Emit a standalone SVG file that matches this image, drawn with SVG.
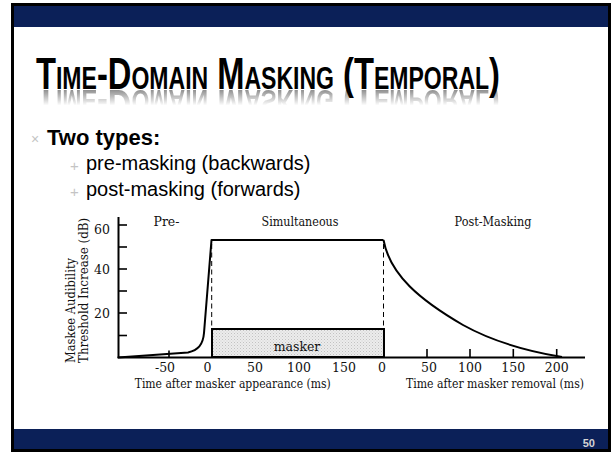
<svg xmlns="http://www.w3.org/2000/svg" width="611" height="452" viewBox="0 0 611 452">
  <style>
    .serif { font-family: "DejaVu Serif", "Liberation Serif", serif; fill: #111; }
    .lbl { font-size: 12.5px; }
    .tick { font-size: 12.5px; text-anchor: middle; }
    .ax { stroke: #000; stroke-width: 2; fill: none; }
    .tk { stroke: #000; stroke-width: 1.6; }
    .crv { stroke: #000; stroke-width: 2; fill: none; stroke-linejoin: round; }
    .dash { stroke: #000; stroke-width: 1; stroke-dasharray: 5 3.5; }
    .sans { font-family: "Liberation Sans", Arial, sans-serif; }
    .bul { fill: #c4c4c4; }
    .ttl { font-size: 44px; font-weight: bold; font-variant: small-caps; fill: #000; }
  </style>
  <defs>
    <linearGradient id="lineGrad" x1="0" y1="0" x2="1" y2="0">
      <stop offset="0" stop-color="#bdbdbd" stop-opacity="0"/>
      <stop offset="0.3" stop-color="#bdbdbd" stop-opacity="1"/>
      <stop offset="1" stop-color="#bdbdbd" stop-opacity="1"/>
    </linearGradient>
    <linearGradient id="maskGrad" x1="0" y1="0" x2="0" y2="1">
      <stop offset="0" stop-color="#fff" stop-opacity="0.45"/>
      <stop offset="1" stop-color="#fff" stop-opacity="0"/>
    </linearGradient>
    <mask id="reflMask" maskUnits="userSpaceOnUse" x="20" y="89" width="500" height="20">
      <rect x="20" y="89.5" width="500" height="16" fill="url(#maskGrad)"/>
    </mask>
    <pattern id="stip" width="3" height="3" patternUnits="userSpaceOnUse">
      <rect width="3" height="3" fill="#ececec"/>
      <rect x="0" y="0" width="1" height="1" fill="#c2c2c2"/>
      <rect x="1.5" y="1.5" width="1" height="1" fill="#d0d0d0"/>
    </pattern>
  </defs>

  <!-- slide frame -->
  <g id="frame">
    <rect x="11" y="3" width="600" height="449" fill="#000"/>
    <rect x="14" y="6" width="594" height="443" fill="#fff"/>
    <rect x="14" y="6" width="594" height="21" fill="#0b2058"/>
    <rect x="14" y="429" width="594" height="20" fill="#0b2058"/>
    <text x="595" y="447" class="sans" font-size="11" font-weight="bold" fill="#d4d4d4" text-anchor="end">50</text>
  </g>

  <!-- title -->
  <g id="title">
    <line x1="440" y1="90" x2="608" y2="90" stroke="url(#lineGrad)" stroke-width="1.5"/>
    <g mask="url(#reflMask)">
      <use href="#titleText" transform="translate(0,179) scale(1,-1)"/>
    </g>
    <text id="titleText" x="36" y="89" class="sans ttl" textLength="464" lengthAdjust="spacingAndGlyphs">Time-Domain Masking (Temporal)</text>
  </g>

  <!-- bullets -->
  <g id="bullets" class="sans">
    <text x="31" y="144" font-size="14" class="bul">×</text>
    <text x="47" y="145" font-size="22" font-weight="bold" fill="#000">Two types:</text>
    <text x="70" y="171" font-size="15" class="bul">+</text>
    <text x="86" y="170" font-size="20" fill="#000">pre-masking (backwards)</text>
    <text x="70" y="197" font-size="15" class="bul">+</text>
    <text x="86" y="196" font-size="20" fill="#000">post-masking (forwards)</text>
  </g>

  <!-- chart -->
  <g id="axes">
    <line class="ax" x1="118.5" y1="217" x2="118.5" y2="358"/>
    <line class="ax" x1="117.5" y1="357.5" x2="585" y2="357.5"/>
    <g class="tk">
      <line x1="118" y1="225" x2="127" y2="225"/>
      <line x1="118" y1="247" x2="127" y2="247"/>
      <line x1="118" y1="269" x2="127" y2="269"/>
      <line x1="118" y1="291" x2="127" y2="291"/>
      <line x1="118" y1="313" x2="127" y2="313"/>
      <line x1="118" y1="335.5" x2="127" y2="335.5"/>
      <line x1="169" y1="350.5" x2="169" y2="357"/>
      <line x1="427" y1="349" x2="427" y2="357"/>
      <line x1="470" y1="349" x2="470" y2="357"/>
      <line x1="513.3" y1="349" x2="513.3" y2="357"/>
      <line x1="556.7" y1="349" x2="556.7" y2="357"/>
    </g>
  </g>

  <g id="y-labels" class="serif lbl">
    <text x="110" y="234" text-anchor="end">60</text>
    <text x="110" y="274" text-anchor="end">40</text>
    <text x="110" y="318" text-anchor="end">20</text>
    <text transform="translate(75,363) rotate(-90)" textLength="105" lengthAdjust="spacingAndGlyphs">Maskee Audibility</text>
    <text transform="translate(88,363) rotate(-90)" textLength="145" lengthAdjust="spacingAndGlyphs">Threshold Increase (dB)</text>
  </g>

  <g id="x-labels" class="serif tick">
    <text x="165" y="371.5">-50</text>
    <text x="207.5" y="371.5">0</text>
    <text x="255" y="371.5">50</text>
    <text x="299" y="371.5">100</text>
    <text x="344" y="371.5">150</text>
    <text x="382" y="371.5">0</text>
    <text x="429" y="371.5">50</text>
    <text x="470" y="371.5">100</text>
    <text x="513.3" y="371.5">150</text>
    <text x="556.7" y="371.5">200</text>
    <text x="232.7" y="388" font-size="12" textLength="196" lengthAdjust="spacingAndGlyphs">Time after masker appearance (ms)</text>
    <text x="495" y="388" font-size="12" textLength="178" lengthAdjust="spacingAndGlyphs">Time after masker removal (ms)</text>
  </g>

  <g id="region-labels" class="serif lbl" text-anchor="middle">
    <text x="166.5" y="226">Pre-</text>
    <text x="300" y="226" textLength="77" lengthAdjust="spacingAndGlyphs">Simultaneous</text>
    <text x="493" y="226" textLength="77" lengthAdjust="spacingAndGlyphs">Post-Masking</text>
  </g>

  <g id="masker">
    <rect x="212" y="329" width="172" height="28" fill="url(#stip)" stroke="#000" stroke-width="2"/>
    <text x="297" y="351" class="serif lbl" text-anchor="middle">masker</text>
  </g>

  <g id="connectors">
    <line class="dash" x1="211.7" y1="244" x2="211.7" y2="329"/>
    <line class="dash" x1="383.5" y1="244" x2="383.5" y2="329"/>
    <path class="crv" d="M118,357.5 L188,352.5 C198,350 203,345 204,333 L211.5,240 L383.5,240"/>
    <path class="crv" d="M383.5,240 C390,275 420,300 463,325 C490,340 520,350 562,357"/>
  </g>
</svg>
